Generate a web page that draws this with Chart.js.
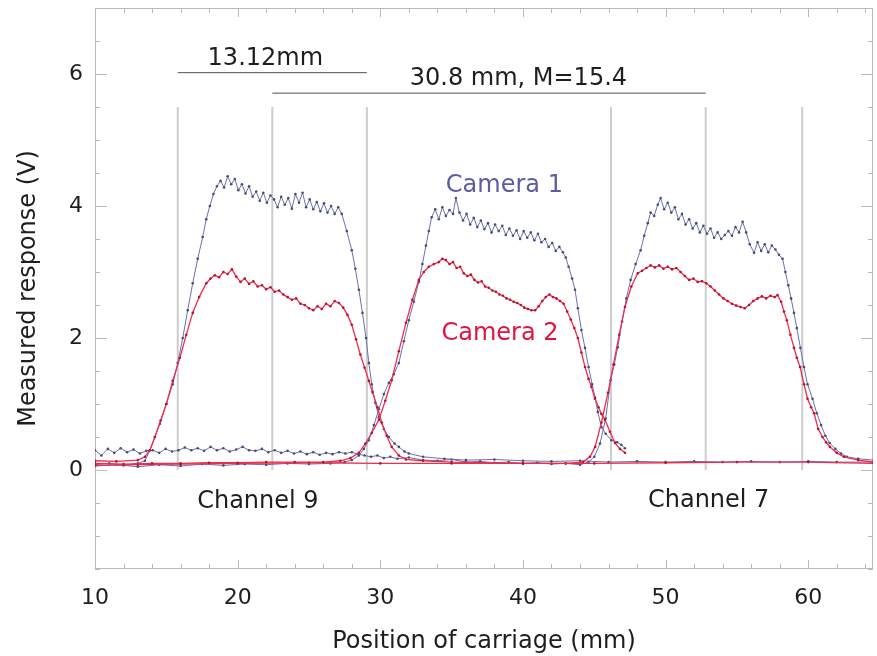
<!DOCTYPE html>
<html>
<head>
<meta charset="utf-8">
<script src="https://cdn.jsdelivr.net/npm/chart.js@4/dist/chart.umd.min.js"></script>
<style>
  html, body { margin: 0; padding: 0; background: #fff; }
  #wrap { width: 877px; height: 656px; }
</style>
</head>
<body>
<div id="wrap"><canvas id="grafico" width="877" height="656"></canvas></div>
<script>
// scans: [position (mm), response (V)]
const cam1Ch9 = [
  [10.0,0.08],[11.0,0.1],[12.0,0.07],[13.0,0.1],[13.5,0.14],[13.85,0.3],[14.2,0.5],[14.55,0.7],[15.0,1.0],[15.45,1.3],[15.8,1.62],[16.15,2.0],[16.5,2.42],[16.85,2.83],[17.2,3.2],[17.55,3.53],[17.8,3.8],[18.05,4.0],[18.3,4.18],[18.55,4.3],
  [18.8,4.38],[19.05,4.28],[19.3,4.45],[19.55,4.33],[19.8,4.41],[20.05,4.24],[20.3,4.33],[20.55,4.19],[20.8,4.3],[21.05,4.14],[21.3,4.22],[21.55,4.08],[21.8,4.2],[22.05,4.05],[22.3,4.16],[22.55,4.1],[22.8,3.98],[23.05,4.14],[23.3,4.02],[23.55,4.12],[23.8,3.96],[24.05,4.18],[24.3,4.05],[24.55,4.2],[24.8,3.98],[25.05,4.1],[25.3,3.95],[25.55,4.06],[25.8,3.92],[26.05,4.04],[26.3,3.9],[26.55,4.0],[26.8,3.88],[27.05,3.98],[27.3,3.88],
  [27.65,3.62],[28.0,3.33],[28.25,3.05],[28.5,2.73],[28.75,2.38],[29.0,2.0],[29.2,1.62],[29.4,1.3],[29.65,1.02],[29.9,0.8],[30.25,0.62],[30.6,0.5],[31.0,0.4],[31.3,0.35],[31.7,0.28],[32.0,0.25],[33,0.2],[34.5,0.17],[36,0.15],[38,0.16],[40,0.14],[42,0.13],[44,0.14],[46,0.12],[48,0.13],[50,0.12],[52,0.13],[54,0.12],[56,0.13],[58,0.12],[60,0.13],[62,0.12],[64.6,0.12]
];
const cam1Mid = [
  [10.0,0.06],[11.5,0.08],[13,0.05],[14.5,0.08],[16,0.06],[17.5,0.09],[19,0.07],[20.5,0.09],[22,0.08],[23.5,0.1],[25,0.09],[26.5,0.1],[27.5,0.12],[28.0,0.15],[28.5,0.22],[28.85,0.32],[29.2,0.45],[29.55,0.68],[29.9,0.92],[30.25,1.15],[30.6,1.32],[30.95,1.45],[31.3,1.62],[31.65,1.95],[32.0,2.27],[32.35,2.55],[32.7,2.85],[32.95,3.12],[33.2,3.4],[33.4,3.62],[33.6,3.83],
  [33.85,3.95],[34.1,3.8],[34.35,3.98],[34.6,3.85],[34.85,3.94],[35.1,3.88],[35.3,4.12],[35.55,3.9],[35.8,3.78],[36.05,3.88],[36.3,3.72],[36.55,3.82],[36.8,3.68],[37.05,3.78],[37.3,3.65],[37.55,3.74],[37.8,3.6],[38.05,3.72],[38.3,3.62],[38.55,3.7],[38.8,3.56],[39.05,3.66],[39.3,3.55],[39.55,3.63],[39.8,3.5],[40.05,3.62],[40.3,3.52],[40.55,3.6],[40.8,3.48],[41.05,3.58],[41.3,3.45],[41.55,3.5],[41.8,3.38],[42.05,3.44],[42.3,3.32],[42.55,3.38],[42.8,3.3],
  [43.0,3.22],[43.2,3.08],[43.45,2.9],[43.65,2.73],[43.85,2.45],[44.1,2.12],[44.35,1.85],[44.6,1.56],[44.85,1.3],[45.05,1.1],[45.25,0.88],[45.5,0.65],[45.8,0.55],[46.2,0.45],[46.6,0.42],[46.9,0.38],[47.15,0.33]
];
const cam1Ch7 = [
  [10.0,0.3],[10.45,0.22],[10.9,0.32],[11.35,0.26],[11.8,0.33],[12.25,0.27],[12.7,0.31],[13.15,0.25],[13.6,0.29],[14.05,0.3],[14.5,0.26],[14.95,0.32],[15.4,0.28],[15.85,0.3],[16.3,0.34],[16.75,0.3],[17.2,0.33],[17.65,0.29],[18.1,0.35],[18.55,0.3],[19.0,0.33],[19.45,0.28],[19.9,0.31],[20.35,0.35],[20.8,0.3],[21.25,0.29],[21.7,0.32],[22.15,0.27],[22.6,0.3],[23.05,0.26],[23.5,0.29],[23.95,0.25],[24.4,0.28],[24.85,0.24],[25.3,0.27],[25.75,0.23],[26.2,0.26],[26.65,0.24],[27.1,0.27],[27.55,0.25],[28.0,0.27],[28.45,0.24],[28.9,0.22],[29.35,0.2],[29.8,0.22],[30.25,0.18],[30.7,0.2],[31.2,0.17],[32,0.19],[33,0.15],[34,0.14],[35,0.16],[36,0.12],[37,0.13],[38,0.11],[39,0.12],[40,0.1],[41,0.11],[42,0.09],[43,0.1],[44,0.08],
  [44.6,0.12],[45.0,0.2],[45.4,0.4],[45.8,0.78],[46.15,1.36],[46.4,1.6],[46.65,1.86],[46.95,2.25],[47.25,2.6],[47.55,2.88],[47.9,3.12],[48.25,3.33],[48.5,3.55],[48.75,3.74],[48.95,3.9],
  [49.2,3.85],[49.45,4.02],[49.65,4.12],[49.9,3.95],[50.15,4.05],[50.4,3.9],[50.65,3.98],[50.9,3.8],[51.15,3.88],[51.4,3.72],[51.65,3.8],[51.9,3.66],[52.15,3.74],[52.4,3.6],[52.65,3.7],[52.9,3.58],[53.15,3.66],[53.4,3.52],[53.65,3.6],[53.9,3.5],[54.15,3.56],[54.4,3.62],[54.65,3.55],[54.9,3.68],[55.15,3.6],[55.4,3.76],[55.65,3.6],[55.9,3.42],[56.2,3.29],[56.45,3.45],[56.7,3.32],[56.95,3.42],[57.2,3.3],[57.45,3.4],[57.7,3.34],[57.95,3.26],
  [58.2,3.2],[58.4,3.0],[58.6,2.8],[58.8,2.6],[59.0,2.38],[59.2,2.15],[59.45,1.85],[59.7,1.56],[59.95,1.3],[60.3,1.08],[60.6,0.86],[60.9,0.68],[61.2,0.52],[61.5,0.41],[61.9,0.32],[62.3,0.25],[62.7,0.2],[63.5,0.17],[64.6,0.15]
];
const cam2Ch9 = [
  [10.0,0.14],[11.5,0.13],[13.0,0.15],[13.5,0.2],[13.85,0.3],[14.2,0.5],[14.6,0.75],[15.0,1.0],[15.45,1.35],[15.95,1.7],[16.4,2.05],[16.85,2.38],[17.3,2.62],[17.8,2.83],
  [18.1,2.9],[18.4,2.95],[18.7,2.92],[19.0,3.0],[19.3,2.97],[19.6,3.04],[19.9,2.93],[20.2,2.85],[20.5,2.9],[20.8,2.82],[21.1,2.86],[21.4,2.78],[21.7,2.8],[22.0,2.74],[22.3,2.77],[22.6,2.7],[22.9,2.72],[23.2,2.66],[23.5,2.62],[23.8,2.58],[24.1,2.6],[24.4,2.52],[24.7,2.5],[25.0,2.45],[25.3,2.42],[25.6,2.48],[25.9,2.44],[26.2,2.52],[26.5,2.48],[26.8,2.56],[27.1,2.53],
  [27.4,2.46],[27.7,2.35],[28.0,2.2],[28.3,1.98],[28.6,1.75],[28.9,1.55],[29.2,1.35],[29.45,1.18],[29.8,0.95],[30.1,0.72],[30.45,0.52],[30.8,0.35],[31.3,0.22],[31.8,0.16],[33,0.14],[35,0.12],[40,0.1],[45,0.1],[50,0.11],[55,0.12],[60,0.12],[64.6,0.1]
];
const cam2Mid = [
  [10.0,0.1],[12,0.09],[14,0.1],[16,0.1],[18,0.11],[20,0.11],[22,0.12],[24,0.12],[26,0.12],[27.2,0.14],[27.9,0.18],[28.5,0.26],[28.95,0.4],[29.4,0.56],[29.9,0.76],[30.35,1.05],[30.8,1.36],[31.3,1.8],[31.8,2.23],[32.25,2.58],[32.7,2.88],
  [33.05,3.0],[33.4,3.08],[33.75,3.12],[34.1,3.15],[34.35,3.2],[34.6,3.18],[34.85,3.12],[35.1,3.15],[35.35,3.06],[35.6,3.08],[35.85,2.98],[36.1,2.94],[36.35,2.96],[36.6,2.88],[36.85,2.84],[37.1,2.86],[37.35,2.78],[37.6,2.76],[37.85,2.72],[38.1,2.7],[38.35,2.66],[38.6,2.64],[38.85,2.6],[39.1,2.58],[39.35,2.55],[39.6,2.53],[39.85,2.5],[40.1,2.46],[40.35,2.44],[40.6,2.42],[40.85,2.42],[41.1,2.48],[41.35,2.56],[41.6,2.62],[41.85,2.66],[42.1,2.62],[42.35,2.6],[42.6,2.56],[42.85,2.52],
  [43.1,2.4],[43.35,2.28],[43.6,2.15],[43.85,2.0],[44.1,1.78],[44.35,1.56],[44.6,1.38],[44.8,1.26],[45.05,1.08],[45.3,0.95],[45.5,0.85],[45.75,0.76],[46.1,0.58],[46.45,0.41],[46.8,0.32],[47.15,0.26]
];
const cam2Ch7 = [
  [10.0,0.07],[13,0.08],[16,0.09],[20,0.1],[25,0.11],[30,0.1],[35,0.1],[40,0.1],[43,0.1],[44.2,0.12],[44.7,0.2],[45.06,0.35],[45.5,0.72],[45.96,1.17],[46.35,1.6],[46.75,2.05],[47.15,2.47],[47.6,2.78],[48.05,2.98],
  [48.35,3.02],[48.65,3.06],[48.95,3.1],[49.25,3.07],[49.55,3.1],[49.85,3.05],[50.15,3.08],[50.45,3.04],[50.75,3.06],[51.05,3.0],[51.35,2.94],[51.65,2.88],[51.95,2.9],[52.25,2.85],[52.55,2.86],[52.85,2.83],[53.15,2.78],[53.45,2.72],[53.75,2.66],[54.05,2.6],[54.35,2.56],[54.65,2.52],[54.95,2.49],[55.25,2.47],[55.55,2.45],[55.85,2.5],[56.15,2.56],[56.45,2.6],[56.75,2.63],[57.05,2.6],[57.35,2.64],[57.65,2.62],[57.85,2.65],
  [58.1,2.55],[58.3,2.4],[58.5,2.27],[58.75,2.05],[59.0,1.85],[59.2,1.7],[59.43,1.56],[59.7,1.3],[59.95,1.08],[60.2,0.95],[60.41,0.86],[60.7,0.62],[61.0,0.5],[61.25,0.42],[61.52,0.35],[62.0,0.26],[62.5,0.2],[63.5,0.15],[64.6,0.12]
];

const xTickLabels = [10, 20, 30, 40, 50, 60];
const yTickLabels = [0, 2, 4, 6];
const xTickMarks = [10, 12, 14, 16, 18, 20, 22, 24, 26, 28, 30, 32, 34, 36, 38, 40, 42, 44, 46, 48, 50, 52, 54, 56, 58, 60, 62, 64];
const yTickMarks = [-1.5, -1, -0.5, 0, 0.5, 1, 1.5, 2, 2.5, 3, 3.5, 4, 4.5, 5, 5.5, 6, 6.5];

// vertical guide lines (mm) and the two measurement bars
const guidePos = [15.8, 22.43, 29.06, 46.17, 52.81, 59.58];
const misure = [
  { da: 15.8, a: 29.06, y: 6.02 },
  { da: 22.43, a: 52.81, y: 5.71 }
];
const etichette = [
  { testo: '13.12mm', x: 21.94, y: 6.14, colore: '#1e1e1e' },
  { testo: '30.8 mm, M=15.4', x: 39.68, y: 5.83, colore: '#1e1e1e' },
  { testo: 'Camera 1', x: 38.7, y: 4.21, colore: '#5a5ca6' },
  { testo: 'Camera 2', x: 38.39, y: 1.97, colore: '#e2143c' },
  { testo: 'Channel 9', x: 21.42, y: -0.58, colore: '#1e1e1e' },
  { testo: 'Channel 7', x: 53.02, y: -0.56, colore: '#1e1e1e' }
];

const FONT = "'DejaVu Sans', sans-serif";
const BLU = '#6a6fb2', BLU_PUNTI = '#4a4d70';
const ROSSO = '#ee2d4c', ROSSO_PUNTI = '#b8142e';

function serie(punti, colore, puntoColore, spessore) {
  return {
    data: punti.map(p => ({ x: p[0], y: p[1] })),
    borderColor: colore,
    borderWidth: spessore,
    pointRadius: 1.3,
    pointBackgroundColor: puntoColore,
    pointBorderWidth: 0,
    tension: 0
  };
}

const datasets = [
  serie(cam2Ch9, ROSSO, ROSSO_PUNTI, 1.3),
  serie(cam2Mid, ROSSO, ROSSO_PUNTI, 1.3),
  serie(cam2Ch7, ROSSO, ROSSO_PUNTI, 1.3),
  serie(cam1Ch9, BLU, BLU_PUNTI, 1),
  serie(cam1Mid, BLU, BLU_PUNTI, 1),
  serie(cam1Ch7, BLU, BLU_PUNTI, 1)
];
misure.forEach(m => datasets.push({
  data: [{ x: m.da, y: m.y }, { x: m.a, y: m.y }],
  borderColor: '#505050', borderWidth: 1, pointRadius: 0
}));
guidePos.forEach(g => datasets.push({
  data: [{ x: g, y: 0 }, { x: g, y: 5.5 }],
  borderColor: '#cdcdcd', borderWidth: 2, pointRadius: 0
}));

const cornice = {
  id: 'cornice',
  beforeDatasetsDraw(chart) {
    const { ctx, chartArea: a, scales: { x, y } } = chart;
    ctx.save();
    ctx.strokeStyle = '#b9b9b9';
    ctx.lineWidth = 1;
    ctx.strokeRect(a.left + 0.5, a.top + 0.5, a.right - a.left - 1, a.bottom - a.top - 1);
    ctx.beginPath();
    xTickMarks.forEach(v => {
      const px = Math.round(x.getPixelForValue(v)) + 0.5;
      const len = v % 10 === 0 ? 9 : 5;
      ctx.moveTo(px, a.bottom); ctx.lineTo(px, a.bottom - len);
      ctx.moveTo(px, a.top); ctx.lineTo(px, a.top + len);
    });
    yTickMarks.forEach(v => {
      const py = Math.round(y.getPixelForValue(v)) + 0.5;
      const len = v % 2 === 0 ? 12 : 5;
      ctx.moveTo(a.left, py); ctx.lineTo(a.left + len, py);
      ctx.moveTo(a.right, py); ctx.lineTo(a.right - len, py);
    });
    ctx.stroke();
    ctx.restore();
  },
  afterDatasetsDraw(chart) {
    const { ctx, scales: { x, y } } = chart;
    ctx.save();
    ctx.font = '24px ' + FONT;
    ctx.textAlign = 'center';
    ctx.textBaseline = 'alphabetic';
    etichette.forEach(e => {
      ctx.fillStyle = e.colore;
      ctx.fillText(e.testo, x.getPixelForValue(e.x), y.getPixelForValue(e.y));
    });
    ctx.restore();
  }
};

new Chart(document.getElementById('grafico'), {
  type: 'line',
  data: { datasets },
  options: {
    responsive: false,
    animation: false,
    layout: { padding: { top: 8, right: 1, left: 0, bottom: 0 } },
    plugins: { legend: { display: false }, tooltip: { enabled: false } },
    scales: {
      x: {
        type: 'linear',
        min: 10,
        max: 64.54,
        grid: { display: false, drawTicks: false },
        border: { display: false },
        ticks: { font: { family: FONT, size: 22 }, color: '#1e1e1e', padding: 16 },
        afterBuildTicks: s => { s.ticks = xTickLabels.map(v => ({ value: v })); },
        afterFit: s => { s.height = 87; s.paddingLeft = 0; s.paddingRight = 0; },
        title: { display: true, text: 'Position of carriage (mm)', font: { family: FONT, size: 24 }, color: '#1e1e1e', padding: { top: 0, bottom: 0 } }
      },
      y: {
        min: -1.5,
        max: 7,
        grid: { display: false, drawTicks: false },
        border: { display: false },
        ticks: { font: { family: FONT, size: 22 }, color: '#1e1e1e', padding: 12 },
        afterBuildTicks: s => { s.ticks = yTickLabels.map(v => ({ value: v })); },
        afterFit: s => { s.width = 95; s.paddingTop = 0; s.paddingBottom = 0; },
        title: { display: true, text: 'Measured response (V)', font: { family: FONT, size: 24 }, color: '#1e1e1e', padding: { top: 14, bottom: 0 } }
      }
    }
  },
  plugins: [cornice]
});
</script>
</body>
</html>
